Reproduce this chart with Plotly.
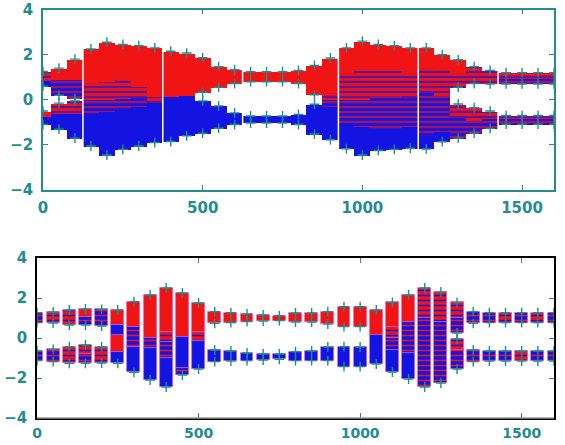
import plotly.graph_objects as go

# ---------------- tick labels ----------------
X_TICKS = [0, 500, 1000, 1500]
X_TICK_LABELS = ["0", "500", "1000", "1500"]
Y_TICKS = [-4, -2, 0, 2, 4]
Y_TICK_LABELS = ["\u22124", "\u22122", "0", "2", "4"]

# ---------------- top panel: segments (column centre, low, high, kind) ----------------
# kind: r = red, b = blue, rs = red with blue streaks, bs = blue with red streaks
top_x = [0, 0, 0, 0,
         50, 50, 50, 50,
         100, 100, 100, 100,
         150, 150, 150, 150,
         200, 200, 200, 200,
         250, 250, 250, 250,
         300, 300, 300, 300,
         350, 350, 350,
         400, 400,
         450, 450,
         500, 500,
         550, 550,
         600, 600,
         650, 650,
         700, 700,
         750, 750,
         800, 800,
         850, 850,
         900, 900, 900, 900,
         950, 950, 950, 950,
         1000, 1000, 1000, 1000,
         1050, 1050, 1050, 1050,
         1100, 1100, 1100, 1100,
         1150, 1150, 1150, 1150,
         1200, 1200, 1200, 1200,
         1250, 1250, 1250, 1250,
         1300, 1300, 1300, 1300,
         1350, 1350, 1350,
         1400, 1400, 1400,
         1450, 1450, 1450, 1450,
         1500, 1500, 1500, 1500,
         1550, 1550, 1550, 1550,
         1600, 1600, 1600, 1600]
top_lo = [0.85, 0.6, -0.75, -1.1,
          0.9, 0.2, -0.6, -1.3,
          0.9, 0.05, -0.6, -1.7,
          0.75, 0.0, -0.6, -2.05,
          0.8, 0.0, -0.5, -2.45,
          0.9, 0.05, -0.4, -2.2,
          0.6, 0.1, -0.3, -2.05,
          0.15, -0.1, -1.9,
          0.15, -1.85,
          0.18, -1.6,
          0.33, -1.48,
          0.56, -1.26,
          0.72, -1.1,
          0.8, -1.03,
          0.8, -1.03,
          0.8, -1.03,
          0.72, -1.1,
          0.22, -1.52,
          0.3, 0.03, -0.3, -1.77,
          1.2, 0.0, -1.0, -2.17,
          1.3, 0.0, -1.2, -2.45,
          1.3, 0.2, -1.3, -2.25,
          1.3, 0.2, -1.3, -2.2,
          1.2, 0.1, -1.2, -2.15,
          1.45, 0.3, -1.6, -2.18,
          1.4, 0.2, -1.4, -1.86,
          1.2, 0.56, -0.8, -1.7,
          0.72, -0.9, -1.48,
          0.7, -0.85, -1.27,
          0.95, 0.7, -0.85, -1.08,
          0.95, 0.7, -0.85, -1.08,
          0.95, 0.7, -0.85, -1.08,
          0.95, 0.7, -0.85, -1.08]
top_hi = [1.25, 0.85, -0.5, -0.75,
          1.4, 0.9, -0.15, -0.6,
          1.8, 0.9, -0.05, -0.6,
          2.25, 0.75, 0.0, -0.6,
          2.55, 0.8, 0.0, -0.5,
          2.45, 0.9, 0.05, -0.4,
          2.4, 0.6, 0.1, -0.3,
          2.3, 0.15, -0.1,
          2.15, 0.15,
          2.07, 0.18,
          1.86, -0.05,
          1.47, -0.27,
          1.33, -0.58,
          1.24, -0.72,
          1.24, -0.72,
          1.24, -0.72,
          1.3, -0.65,
          1.52, -0.2,
          1.85, 0.3, 0.03, -0.3,
          2.3, 1.2, 0.0, -1.0,
          2.6, 1.3, 0.0, -1.2,
          2.45, 1.3, 0.2, -1.3,
          2.4, 1.3, 0.2, -1.3,
          2.3, 1.2, 0.1, -1.2,
          2.3, 1.45, 0.3, -1.6,
          2.0, 1.4, 0.2, -1.4,
          1.77, 1.2, -0.19, -0.8,
          1.47, -0.35, -0.9,
          1.3, -0.5, -0.85,
          1.2, 0.95, -0.7, -0.85,
          1.2, 0.95, -0.7, -0.85,
          1.2, 0.95, -0.7, -0.85,
          1.2, 0.95, -0.7, -0.85]
top_kind = ["rs", "b", "r", "b",
            "r", "bs", "rs", "b",
            "r", "bs", "rs", "b",
            "r", "rs", "bs", "b",
            "r", "rs", "bs", "b",
            "r", "rs", "bs", "b",
            "r", "rs", "bs", "b",
            "r", "rs", "b",
            "r", "b",
            "r", "b",
            "r", "b",
            "r", "b",
            "r", "b",
            "r", "b",
            "r", "b",
            "r", "b",
            "r", "b",
            "r", "b",
            "r", "rs", "bs", "b",
            "r", "rs", "bs", "b",
            "r", "rs", "bs", "b",
            "r", "rs", "bs", "b",
            "r", "rs", "bs", "b",
            "r", "rs", "bs", "b",
            "r", "rs", "bs", "b",
            "r", "rs", "bs", "b",
            "r", "rs", "rs", "bs",
            "rs", "rs", "bs",
            "rs", "rs", "bs",
            "rs", "bs", "rs", "bs",
            "rs", "bs", "rs", "bs",
            "rs", "bs", "rs", "bs",
            "rs", "bs", "rs", "bs"]
top_gaps = [125, 375, 625, 925, 1175, 1425]

# ---------------- bottom panel ----------------
bot_x = [0, 0,
         50, 50,
         100, 100,
         150, 150, 150, 150,
         200, 200,
         250, 250, 250, 250,
         300, 300, 300,
         350, 350, 350,
         400, 400, 400, 400,
         450, 450, 450,
         500, 500, 500,
         550, 550,
         600, 600,
         650, 650,
         700, 700,
         750, 750,
         800, 800,
         850, 850,
         900, 900,
         950, 950,
         1000, 1000,
         1050, 1050,
         1100, 1100, 1100, 1100,
         1150, 1150, 1150,
         1200, 1200,
         1250, 1250,
         1300, 1300, 1300, 1300,
         1350, 1350,
         1400, 1400,
         1450, 1450,
         1500, 1500,
         1550, 1550,
         1600, 1600]
bot_lo = [0.77, -1.13,
          0.75, -1.18,
          0.65, -1.27,
          1.05, 0.65, -0.8, -1.27,
          0.6, -1.25,
          0.65, 0.15, -0.7, -1.27,
          0.55, -0.45, -1.72,
          0.0, -0.5, -2.1,
          0.3, -0.2, -1.0, -2.45,
          0.05, -1.5, -1.85,
          0.3, -0.15, -1.55,
          0.73, -1.18,
          0.77, -1.15,
          0.82, -1.13,
          0.85, -1.1,
          0.87, -1.07,
          0.8, -1.13,
          0.8, -1.13,
          0.7, -1.13,
          0.57, -1.43,
          0.57, -1.43,
          0.15, -1.3,
          0.55, 0.0, -0.6, -1.7,
          0.8, -0.75, -2.05,
          1.0, -2.45,
          0.8, -2.25,
          1.0, 0.25, -0.6, -1.55,
          0.73, -1.18,
          0.77, -1.15,
          0.77, -1.15,
          0.77, -1.15,
          0.77, -1.15,
          0.77, -1.15]
bot_hi = [1.27, -0.65,
          1.3, -0.57,
          1.4, -0.43,
          1.45, 1.05, -0.35, -0.8,
          1.43, -0.45,
          1.4, 0.65, 0.15, -0.7,
          1.82, 0.55, -0.45,
          2.15, 0.0, -0.5,
          2.5, 0.3, -0.2, -1.0,
          2.25, 0.05, -1.5,
          1.75, 0.3, -0.15,
          1.32, -0.6,
          1.27, -0.65,
          1.2, -0.75,
          1.15, -0.8,
          1.12, -0.8,
          1.25, -0.68,
          1.25, -0.65,
          1.32, -0.45,
          1.57, -0.43,
          1.57, -0.45,
          1.4, 0.15,
          1.78, 0.55, 0.0, -0.6,
          2.15, 0.8, -0.75,
          2.5, 1.0,
          2.3, 0.8,
          1.78, 1.0, -0.05, -0.6,
          1.32, -0.6,
          1.27, -0.65,
          1.27, -0.65,
          1.27, -0.65,
          1.27, -0.65,
          1.27, -0.65]
bot_kind = ["bs", "bs",
            "rs", "bs",
            "rs", "rs",
            "r", "bs", "rs", "bs",
            "bs", "rs",
            "r", "b", "r", "b",
            "r", "bs", "b",
            "r", "bs", "b",
            "r", "rs", "bs", "b",
            "r", "b", "bs",
            "r", "rs", "b",
            "r", "b",
            "r", "b",
            "r", "b",
            "r", "b",
            "r", "b",
            "r", "b",
            "r", "b",
            "r", "b",
            "r", "b",
            "r", "b",
            "r", "b",
            "r", "rs", "bs", "b",
            "r", "bs", "b",
            "rs", "bs",
            "rs", "bs",
            "rs", "bs", "rs", "bs",
            "bs", "bs",
            "bs", "bs",
            "rs", "bs",
            "bs", "rs",
            "rs", "bs",
            "bs", "bs"]

# ---------------- styling ----------------
RED = "rgb(240,20,20)"
BLUE = "rgb(20,20,226)"
TEAL = "rgb(36,140,142)"
FONT = "DejaVu Sans"

fig = go.Figure()


def add_panel(xs, los, his, kinds, width, xa, ya, outline):
    styles = {"r": (RED, None), "b": (BLUE, None), "rs": (RED, BLUE), "bs": (BLUE, RED)}
    for kind, (bg, fg) in styles.items():
        idx = [i for i, k in enumerate(kinds) if k == kind]
        if not idx:
            continue
        marker = dict(color=bg, line=outline)
        if fg:
            marker["pattern"] = dict(shape="-", fgcolor=fg, bgcolor=bg,
                                     size=5, solidity=0.3, fillmode="replace")
        fig.add_trace(go.Bar(
            x=[xs[i] for i in idx],
            y=[his[i] - los[i] for i in idx],
            base=[los[i] for i in idx],
            width=width, marker=marker,
            xaxis=xa, yaxis=ya, showlegend=False, hoverinfo="skip"))
    # "+" markers at the edges of each band
    cols = {}
    for x, lo, hi in zip(xs, los, his):
        cols.setdefault(x, []).append((lo, hi))
    mx, my = [], []
    for x, segs in cols.items():
        segs.sort()
        bands = []
        for lo, hi in segs:
            if bands and lo <= bands[-1][1] + 0.02:
                bands[-1][1] = max(bands[-1][1], hi)
            else:
                bands.append([lo, hi])
        for lo, hi in bands:
            mx += [x, x]
            my += [lo, hi]
    fig.add_trace(go.Scatter(
        x=mx, y=my, mode="markers", xaxis=xa, yaxis=ya, showlegend=False,
        hoverinfo="skip",
        marker=dict(symbol="cross-thin", size=7, line=dict(color=TEAL, width=1.4))))


add_panel(top_x, top_lo, top_hi, top_kind, 50, "x", "y", dict(width=0))
add_panel(bot_x, bot_lo, bot_hi, bot_kind, 40, "x2", "y2",
          dict(width=0.8, color="rgba(210,90,210,0.7)"))

shapes = []
for g in top_gaps:
    shapes.append(dict(type="line", xref="x", yref="y", x0=g, x1=g, y0=-2.7, y1=2.7,
                       line=dict(color="white", width=1.5), layer="above"))
shapes.append(dict(type="line", xref="x2 domain", yref="y2 domain", x0=0, x1=1, y0=0, y1=0,
                   line=dict(color="rgb(150,150,150)", width=1.6), layer="above"))


def axis(domain, anchor, line_color, **kw):
    d = dict(domain=domain, anchor=anchor, showgrid=False, zeroline=False,
             automargin=False,
             showline=True, linecolor=line_color, linewidth=1.5, mirror="ticks",
             ticks="inside", ticklen=5, tickwidth=1, tickcolor=TEAL,
             tickfont=dict(family=FONT, size=15, color=TEAL, weight="bold"))
    d.update(kw)
    return d


fig.update_layout(
    width=565, height=445,
    margin=dict(l=0, r=0, t=0, b=0, autoexpand=False),
    paper_bgcolor="white", plot_bgcolor="white",
    barmode="overlay", bargap=0,
    shapes=shapes,
    xaxis=axis([43 / 565, 554 / 565], "y", TEAL, range=[0, 1600],
               tickvals=X_TICKS, ticktext=X_TICK_LABELS, ticklabelstandoff=3),
    yaxis=axis([1 - 190 / 445, 1 - 9.5 / 445], "x", TEAL, range=[-4, 4],
               tickvals=Y_TICKS, ticktext=Y_TICK_LABELS, ticklabelstandoff=5),
    xaxis2=axis([37 / 565, 554 / 565], "y2", "black", range=[0, 1600],
                tickvals=X_TICKS, ticktext=X_TICK_LABELS, ticklabelstandoff=1,
                tickfont=dict(family=FONT, size=14, color=TEAL, weight="bold")),
    yaxis2=axis([1 - 418 / 445, 1 - 258 / 445], "x2", "black", range=[-4, 4],
                tickvals=Y_TICKS, ticktext=Y_TICK_LABELS, ticklabelstandoff=5),
)

fig.write_html("out.html", config={"displayModeBar": False},
               post_script="document.body.style.margin='0';document.body.style.overflow='hidden';")
